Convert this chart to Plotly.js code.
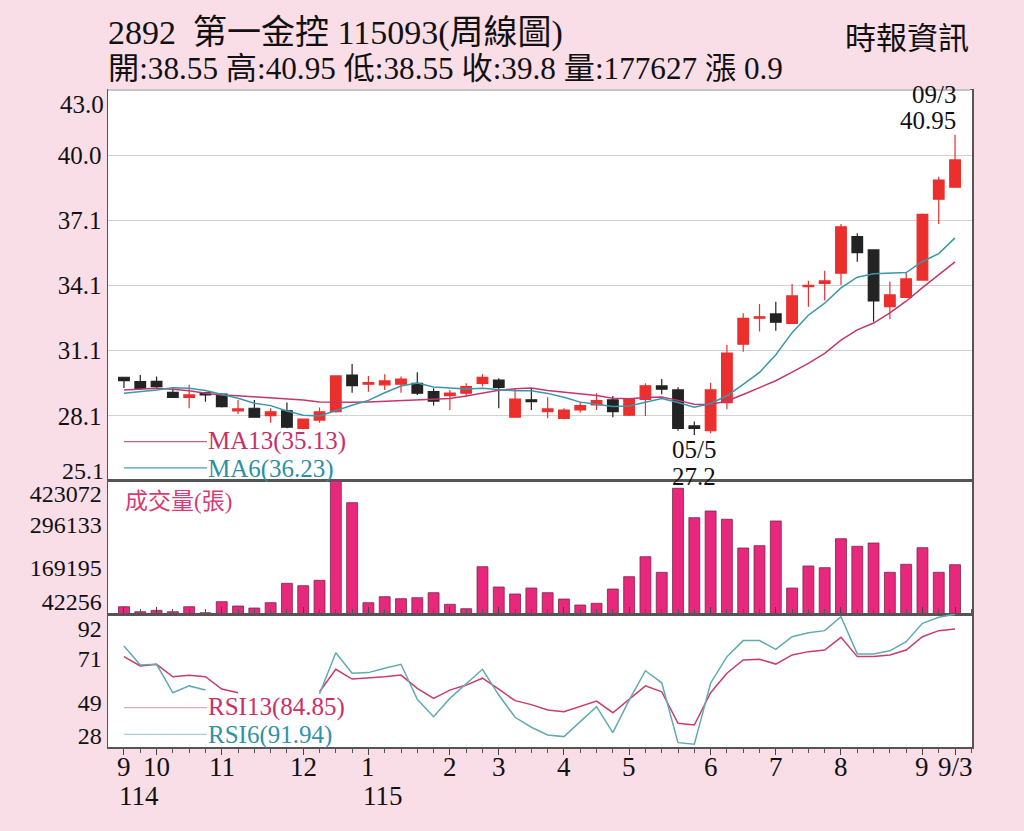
<!DOCTYPE html>
<html>
<head>
<meta charset="utf-8">
<script src="https://cdn.plot.ly/plotly-3.0.1.min.js"></script>
<style>
  html, body { margin: 0; padding: 0; background: #f9dde7; }
  #chart { width: 1024px; height: 831px; }
</style>
</head>
<body>
<div id="chart"></div>
<script>
// weekly candles, 114/9 .. 115/9/3
const open  = [29.85,29.65,29.66,29.16,28.93,29.14,29.08,28.31,28.43,28.09,28.31,27.51,27.89,28.27,29.95,29.53,29.50,29.53,29.57,29.19,29.01,29.12,29.57,29.72,28.02,28.82,28.27,27.97,28.35,28.58,28.81,28.11,28.84,29.45,29.27,27.62,27.40,28.69,31.36,32.55,32.75,32.32,34.00,34.15,34.61,36.29,35.68,33.08,33.51,34.30,38.00,38.55];
const high  = [29.85,29.95,29.88,29.36,29.50,29.16,29.12,28.81,28.81,28.43,28.69,27.95,28.46,29.91,30.46,29.91,29.99,29.88,30.08,29.34,29.27,29.57,29.99,29.80,29.34,29.31,28.93,28.43,28.73,29.12,28.99,28.89,29.57,29.77,29.39,27.82,29.60,31.33,32.78,33.20,33.31,34.12,34.27,34.73,36.87,36.44,35.68,34.23,34.64,37.35,39.03,40.95];
const low   = [29.36,29.27,29.34,28.90,28.43,28.73,28.46,28.17,28.00,27.77,27.51,27.50,27.77,28.22,29.14,29.19,29.27,29.14,29.04,28.55,28.35,28.96,29.42,28.43,28.00,28.35,27.97,27.93,28.23,28.35,28.02,28.08,28.08,29.07,27.40,27.20,27.28,28.38,31.02,31.94,31.98,32.30,33.08,33.36,34.07,35.14,32.39,32.50,33.48,34.28,36.87,38.55];
const close = [29.69,29.34,29.42,28.93,29.04,29.04,28.50,28.40,28.02,28.27,27.56,27.93,28.27,29.91,29.46,29.60,29.68,29.77,29.12,28.76,29.12,29.42,29.85,29.39,28.85,28.73,28.40,28.35,28.55,28.78,28.27,28.84,29.46,29.30,27.51,27.51,29.27,30.95,32.55,32.62,32.37,33.57,34.06,34.26,36.74,35.55,33.34,33.62,34.35,37.31,38.88,39.80];

const ma13 = [29.27,29.30,29.34,29.30,29.23,29.12,29.04,29.00,28.96,28.91,28.87,28.81,28.72,28.70,28.70,28.72,28.75,28.80,28.81,28.83,28.88,28.99,29.11,29.25,29.32,29.36,29.24,29.16,29.08,29.01,28.89,28.87,28.92,28.94,28.79,28.61,28.60,28.76,29.06,29.38,29.69,30.08,30.48,30.94,31.55,32.02,32.33,32.80,33.33,33.95,34.56,35.13];
const ma6  = [29.12,29.19,29.27,29.37,29.34,29.24,29.05,28.89,28.66,28.55,28.30,28.11,28.08,28.33,28.57,28.79,29.14,29.45,29.59,29.40,29.34,29.31,29.34,29.28,29.23,29.23,29.11,28.93,28.71,28.61,28.51,28.53,28.71,28.87,28.69,28.48,28.65,29.00,29.52,30.07,30.88,31.89,32.69,33.24,33.94,34.43,34.59,34.60,34.64,35.15,35.51,36.23];

const volume = [54500,39900,43950,39900,54500,36900,69200,56600,50700,66300,123100,116100,131900,423072,359500,66300,83800,78000,80900,95600,61600,48700,171800,112300,91800,109300,95600,77100,59500,64500,106400,142500,201100,155300,401700,315500,335100,310800,226600,233400,305800,109300,173900,168900,253900,231600,241300,155400,178800,227500,155400,177627];

const rsi13 = [71.5,67.0,67.8,61.8,62.5,61.8,55.9,54.1,null,null,null,null,54.6,65.4,60.7,61.1,61.8,62.6,56.2,51.4,55.4,57.8,61.1,55.8,50.3,48.4,45.8,45.0,47.7,50.1,44.5,51.0,57.4,54.6,39.4,38.6,54.1,63.5,69.9,70.2,67.9,72.3,73.9,74.7,80.8,71.5,71.5,72.3,74.7,81.1,84.0,84.85];
const rsi6  = [76.6,67.5,67.8,54.1,57.4,55.4,null,null,null,null,null,null,53.5,73.4,63.5,63.8,65.9,67.8,51.0,42.6,51.4,58.3,65.4,53.0,42.3,37.5,33.8,33.0,40.2,47.4,34.9,50.6,64.7,58.9,30.1,29.3,58.7,71.5,79.2,79.2,75.0,81.1,83.0,84.0,90.7,72.8,72.8,74.3,78.7,87.5,90.4,91.94];

const monthTickIdx  = [0, 2, 6, 11, 15, 20, 23, 27, 31, 36, 40, 44, 49, 51];
const monthTickText = ['9', '10', '11', '12', '1', '2', '3', '4', '5', '6', '7', '8', '9', '9/3'];
const yearTickIdx  = [0, 15];
const yearTickText = ['114', '115'];

const priceTicks = [28.083, 31.067, 34.05, 37.033, 40.017];
const priceTickText = ['28.1', '31.1', '34.1', '37.1', '40.0'];

const week = close.map((_, i) => i);

const serif = '"Liberation Serif", "Noto Sans CJK TC", serif';
const red = '#ea2f2d';
const black = '#232323';
const maRed = '#c2386c';
const maTeal = '#3a97ab';

const traces = [
  {
    type: 'candlestick', x: week, open: open, high: high, low: low, close: close,
    xaxis: 'x', yaxis: 'y', whiskerwidth: 0, hoverinfo: 'skip',
    increasing: { line: { color: red, width: 1.2 }, fillcolor: red },
    decreasing: { line: { color: black, width: 1.2 }, fillcolor: black }
  },
  { type: 'scatter', mode: 'lines', x: week, y: ma13, xaxis: 'x', yaxis: 'y',
    line: { color: maRed, width: 1.5 }, hoverinfo: 'skip' },
  { type: 'scatter', mode: 'lines', x: week, y: ma6, xaxis: 'x', yaxis: 'y',
    line: { color: maTeal, width: 1.5 }, hoverinfo: 'skip' },
  { type: 'bar', x: week, y: volume, xaxis: 'x', yaxis: 'y2', width: 0.67,
    marker: { color: '#e8287d', line: { color: '#7d2447', width: 0.8 } }, hoverinfo: 'skip' },
  { type: 'scatter', mode: 'lines', x: week, y: rsi13, xaxis: 'x', yaxis: 'y3',
    line: { color: '#c83c6e', width: 1.5 }, connectgaps: false, hoverinfo: 'skip' },
  { type: 'scatter', mode: 'lines', x: week, y: rsi6, xaxis: 'x', yaxis: 'y3',
    line: { color: '#62aab2', width: 1.5 }, connectgaps: false, hoverinfo: 'skip' }
];

function note(text, x, y, opts) {
  return Object.assign({
    text: text, x: x, y: y, xref: 'paper', yref: 'paper', showarrow: false,
    xanchor: 'left', yanchor: 'middle', borderpad: 0,
    font: { family: serif, size: 25, color: '#111' }
  }, opts || {});
}

const annotations = [
  note('2892\u00a0 第一金控 115093(周線圖)', -0.0012, 1.0860, { font: { family: serif, size: 34, color: '#111' } }),
  note('開:38.55 高:40.95 低:38.55 收:39.8 量:177627 漲 0.9', -0.0012, 1.0320, { font: { family: serif, size: 31.2, color: '#111' } }),
  note('時報資訊', 0.9977, 1.0791, { xanchor: 'right', font: { family: serif, size: 31, color: '#111' } }),
  note('43.0', 0, 42.32, { yref: 'y', xanchor: 'right', xshift: -3 }),
  note('25.1', 0, 25.58, { yref: 'y', xanchor: 'right', xshift: -3, font: { family: serif, size: 24, color: '#111' } }),
  note('09/3', 51, 40.95, { xref: 'x', yref: 'y', xanchor: 'right', yanchor: 'bottom', yshift: 26, xshift: 2 }),
  note('40.95', 51, 40.95, { xref: 'x', yref: 'y', xanchor: 'right', yanchor: 'bottom', yshift: 0, xshift: 2 }),
  note('05/5', 35, 27.2, { xref: 'x', yref: 'y', xanchor: 'center', yanchor: 'top', yshift: 0 }),
  note('27.2', 35, 27.2, { xref: 'x', yref: 'y', xanchor: 'center', yanchor: 'top', yshift: -27 }),
  note('MA13(35.13)', 0.1146, 0.4662, { font: { family: serif, size: 25, color: '#c8306a' } }),
  note('MA6(36.23)', 0.1146, 0.4232, { font: { family: serif, size: 25, color: '#2e8fa4' } }),
  note('成交量(張)', 0.0185, 0.3744, { font: { family: serif, size: 23, color: '#d83a73' } }),
  note('RSI13(84.85)', 0.1146, 0.0605, { font: { family: serif, size: 25, color: '#cc2f68' } }),
  note('RSI6(91.94)', 0.1146, 0.0186, { font: { family: serif, size: 25, color: '#2f93a8' } })
];

// month labels under the time axis, year labels below them
monthTickIdx.forEach((idx, k) => {
  annotations.push(note(monthTickText[k], idx, -0.0305,
    { xref: 'x', xanchor: 'center', font: { family: serif, size: 27, color: '#111' } }));
});
yearTickIdx.forEach((idx, k) => {
  annotations.push(note(yearTickText[k], idx, -0.0745,
    { xref: 'x', xshift: -6, font: { family: serif, size: 27, color: '#111' } }));
});

function keyLine(y, color) {
  return { type: 'line', xref: 'paper', yref: 'paper', x0: 0.0185, x1: 0.1146, y0: y, y1: y,
           line: { color: color, width: 1.3 } };
}

const layout = {
  width: 1024, height: 831,
  paper_bgcolor: '#f9dde7', plot_bgcolor: '#ffffff',
  margin: { l: 108, r: 52, t: 90, b: 84 },
  showlegend: false,
  boxgap: 0.25, boxgroupgap: 0.13,
  font: { family: serif, color: '#111', size: 24 },
  xaxis: {
    anchor: 'y3', range: [-0.98, 52.04], showgrid: false, zeroline: false,
    tickmode: 'array', tickvals: monthTickIdx, showticklabels: false,
    ticks: 'outside', ticklen: 6, tickcolor: '#444',
    minor: { tickmode: 'linear', tick0: 0, dtick: 1, ticks: 'outside', ticklen: 4, tickcolor: '#555' },
    showline: true, linecolor: '#555', linewidth: 1.5, mirror: 'all',
    rangeslider: { visible: false }, fixedrange: true
  },
  yaxis: {
    domain: [0.4049, 1], range: [25.1, 43.0], anchor: 'x',
    tickmode: 'array', tickvals: priceTicks, ticktext: priceTickText,
    showgrid: true, gridcolor: '#d2d2d2', gridwidth: 1.2, ticks: '', zeroline: false,
    showline: true, linecolor: '#555', linewidth: 1.5, mirror: true, tickfont: { size: 25 }
  },
  yaxis2: {
    domain: [0.2024, 0.4049], range: [33116, 423072], anchor: 'x',
    tickmode: 'array', tickvals: [385000, 296133, 169195, 69000],
    ticktext: ['423072', '296133', '169195', '42256'],
    showgrid: false, ticks: '', zeroline: false,
    showline: true, linecolor: '#555', linewidth: 1.5, mirror: true, tickfont: { size: 24 }
  },
  yaxis3: {
    domain: [0, 0.2024], range: [28, 92], anchor: 'x',
    tickmode: 'array', tickvals: [84.8, 70.67, 49.33, 33.3], ticktext: ['92', '71', '49', '28'],
    showgrid: false, ticks: '', zeroline: false,
    showline: true, linecolor: '#555', linewidth: 1.5, mirror: true, tickfont: { size: 24 }
  },
  annotations: annotations,
  shapes: [
    keyLine(0.4647, '#c4668a'),
    keyLine(0.4247, '#4a9fb2'),
    keyLine(0.0598, '#dcaabb'),
    keyLine(0.0193, '#a9cfd2'),
    { type: 'line', xref: 'paper', yref: 'paper', x0: 0, x1: 0.998, y0: 1, y1: 1,
      layer: 'above', line: { color: '#c4c4c4', width: 2 } }
  ]
};

Plotly.newPlot('chart', traces, layout, { staticPlot: true, displayModeBar: false });
</script>
</body>
</html>
